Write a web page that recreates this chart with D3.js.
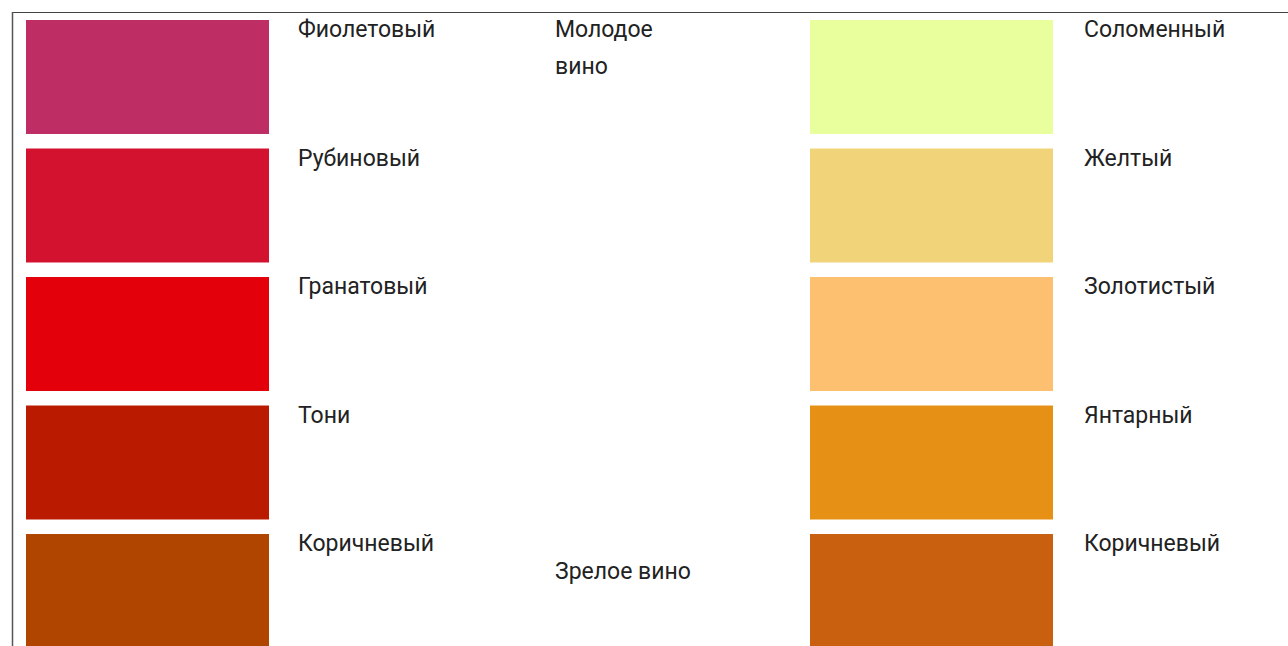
<!DOCTYPE html>
<html>
<head>
<meta charset="utf-8">
<script src="https://cdn.jsdelivr.net/npm/d3@7"></script>
<style>
  body { margin: 0; background: #fff; }
  text { font-family: Roboto, "Liberation Sans", sans-serif; font-size: 23px; fill: #222; }
</style>
</head>
<body>
<script>
// red wine shades (left) and white wine shades (right)
const redLabels = ["Фиолетовый", "Рубиновый", "Гранатовый", "Тони", "Коричневый"]
const redColors = ["#be2d64", "#d31230", "#e3000b", "#ba1a00", "#b04500"]
const whiteLabels = ["Соломенный", "Желтый", "Золотистый", "Янтарный", "Коричневый"]
const whiteColors = ["#e9ff9d", "#f1d47a", "#fcc070", "#e69016", "#c96010"]
const ageLabels = [["Молодое", "вино"], ["Зрелое вино"]]

const w = 1288
const h = 646

const svg = d3.select("body")
  .append("svg")
  .attr("width", w)
  .attr("height", h)

// table frame
svg.append("line")
  .attr("x1", 12).attr("x2", w)
  .attr("y1", 12.5).attr("y2", 12.5)
  .attr("stroke", "#444").attr("stroke-width", 1.2)
svg.append("line")
  .attr("x1", 12.5).attr("x2", 12.5)
  .attr("y1", 12).attr("y2", h)
  .attr("stroke", "#555").attr("stroke-width", 1.5)

const yScale = d3.scaleBand()
  .domain(d3.range(redLabels.length))
  .range([20, 648])
  .paddingInner(0.113)
  .paddingOuter(0)
  .align(0)

const cols = [
  { labels: redLabels, colors: redColors, x: 26, tx: 298 },
  { labels: whiteLabels, colors: whiteColors, x: 810, tx: 1084 }
]
const swatchW = 243

cols.forEach(c => {
  const g = svg.append("g")
  g.selectAll("rect")
    .data(c.colors)
    .enter()
    .append("rect")
    .attr("x", c.x)
    .attr("y", (d, i) => yScale(i))
    .attr("width", swatchW)
    .attr("height", yScale.bandwidth())
    .style("fill", d => d)
  g.selectAll("text")
    .data(c.labels)
    .enter()
    .append("text")
    .attr("x", c.tx)
    .attr("y", (d, i) => yScale(i) + 17)
    .text(d => d)
})

// middle column: young / mature wine
const mid = svg.append("g")
mid.append("text")
  .attr("x", 555)
  .attr("y", yScale(0) + 17)
  .selectAll("tspan")
  .data(ageLabels[0])
  .enter()
  .append("tspan")
  .attr("x", 555)
  .attr("dy", (d, i) => i === 0 ? 0 : 37)
  .text(d => d)
mid.append("text")
  .attr("x", 555)
  .attr("y", yScale(4) + 45)
  .text(ageLabels[1][0])
</script>
</body>
</html>
